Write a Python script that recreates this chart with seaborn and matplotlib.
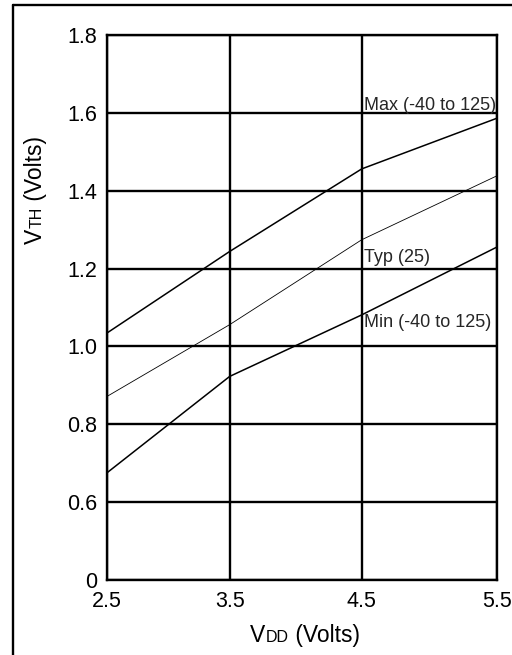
import numpy as np
import pandas as pd
import seaborn as sns
import matplotlib
matplotlib.use("Agg")
import matplotlib.pyplot as plt

# VDD sweep (Volts) and threshold voltage curves (Volts)
vdd = [2.5, 3.5, 4.5, 5.5]
vth_max = [1.035, 1.244, 1.456, 1.586]
vth_typ = [0.872, 1.056, 1.274, 1.438]
vth_min = [0.676, 0.923, 1.081, 1.255]

series_names = ["Max (-40 to 125)", "Typ (25)", "Min (-40 to 125)"]
label_y = [1.607, 1.218, 1.05]

y_ticks = [0.4, 0.6, 0.8, 1.0, 1.2, 1.4, 1.6, 1.8]
y_tick_labels = ["0", "0.6", "0.8", "1.0", "1.2", "1.4", "1.6", "1.8"]

df = pd.DataFrame({
    "VDD": vdd * 3,
    "VTH": vth_max + vth_typ + vth_min,
    "curve": [series_names[0]] * 4 + [series_names[1]] * 4 + [series_names[2]] * 4,
})

sns.set_style("white")
plt.rcParams["font.family"] = ["Liberation Sans", "DejaVu Sans"]

fig = plt.figure(figsize=(5.12, 6.55), dpi=100)
W, H = 512, 655
ax = fig.add_axes([107.3 / W, 1 - 580 / H, (496.7 - 107.3) / W, (580 - 35) / H])

# grid columns in the original are not quite evenly spaced
grid_px = [0, 122.4, 254.4, 389.4]
def fwd(v):
    v = np.asarray(v, float)
    return np.where(v < 2.5, (v - 2.5) * 122.4,
                    np.where(v > 5.5, 389.4 + (v - 5.5) * 135, np.interp(v, vdd, grid_px)))
def inv(p):
    p = np.asarray(p, float)
    return np.where(p < 0, 2.5 + p / 122.4,
                    np.where(p > 389.4, 5.5 + (p - 389.4) / 135, np.interp(p, grid_px, vdd)))
ax.set_xscale("function", functions=(fwd, inv))

widths = {series_names[0]: 1.1, series_names[1]: 0.6, series_names[2]: 1.1}
for name in series_names:
    sub = df[df["curve"] == name]
    sns.lineplot(data=sub, x="VDD", y="VTH", color="black", linewidth=widths[name], ax=ax, legend=False)

for name, ly in zip(series_names, label_y):
    ax.annotate(name, xy=(4.5, ly), xytext=(1.5, 0), textcoords="offset points",
                ha="left", va="baseline", fontsize=13, clip_on=False)

ax.set_xlim(2.5, 5.5)
ax.set_ylim(0.4, 1.8)
ax.set_xticks(vdd)
ax.set_xticklabels([f"{v:.1f}" for v in vdd])
ax.set_yticks(y_ticks)
ax.set_yticklabels(y_tick_labels)
ax.grid(True, color="black", linewidth=1.7)
ax.set_axisbelow(True)
for s in ax.spines.values():
    s.set_color("black")
    s.set_linewidth(1.7)
ax.tick_params(axis="x", length=3, width=1.7, direction="out", pad=5, labelsize=15.5, colors="black")
ax.tick_params(axis="y", length=0, pad=7, labelsize=15.5, colors="black")
ax.set_xlabel("")
ax.set_ylabel("")

# frame lines (left and top) around the figure
fig.add_artist(plt.Line2D([13 / W, 13 / W], [0, 1 - 4.7 / H], color="black", linewidth=1.7, transform=fig.transFigure))
fig.add_artist(plt.Line2D([13 / W, 1], [1 - 4.7 / H, 1 - 4.7 / H], color="black", linewidth=1.7, transform=fig.transFigure))

# composite labels with small-cap style subscripts
fig.canvas.draw()
rend = fig.canvas.get_renderer()

def compose(pieces, cx, cy, rotation):
    texts = []
    for txt, size in pieces:
        t = fig.text(0, 0, txt, fontsize=size, ha="left", va="baseline",
                     rotation=rotation, rotation_mode="anchor", color="black")
        texts.append(t)
    lengths = []
    for t in texts:
        bb = t.get_window_extent(rend)
        lengths.append(bb.height if rotation == 90 else bb.width)
    total = sum(lengths)
    pos = -total / 2
    for t, ln in zip(texts, lengths):
        if rotation == 90:
            t.set_position((cx / W, (cy + pos) / H))
        else:
            t.set_position(((cx + pos) / W, cy / H))
        pos += ln

compose([("V", 16.5), ("DD", 11.5), (" (Volts)", 16.5)], 305, 655 - 642, 0)
compose([("V", 16.5), ("TH", 11.5), (" (Volts)", 16.5)], 42, 655 - 190, 90)

fig.savefig("out.png", dpi=100)
